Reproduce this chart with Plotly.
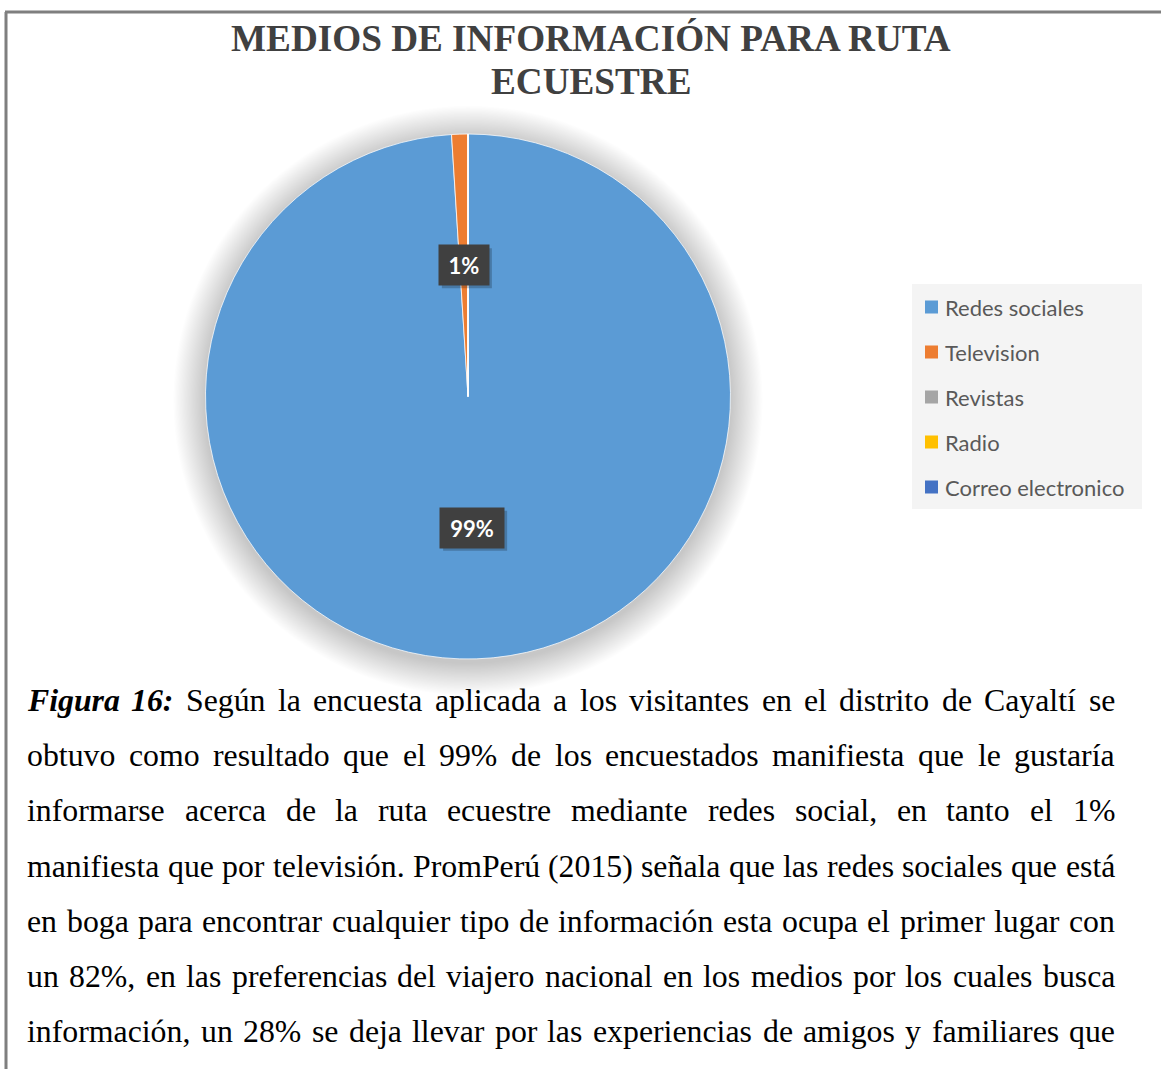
import math
import plotly.graph_objects as go

# ---------------- data ----------------
labels = ["Redes sociales", "Television", "Revistas", "Radio", "Correo electronico"]
values = [99, 1, 0, 0, 0]
colors = ["#5B9BD5", "#ED7D31", "#A5A5A5", "#FFC000", "#4472C4"]

title_lines = ["MEDIOS DE INFORMACIÓN PARA RUTA", "ECUESTRE"]
caption_lead = "Figura 16:"
caption_lines = [
    "Según la encuesta aplicada a los visitantes en el distrito de Cayaltí se",
    "obtuvo como resultado que el 99% de los encuestados manifiesta que le gustaría",
    "informarse acerca de la ruta ecuestre mediante redes social, en tanto el 1%",
    "manifiesta que por televisión. PromPerú (2015) señala que las redes sociales que está",
    "en boga para encontrar cualquier tipo de información esta ocupa el primer lugar con",
    "un 82%, en las preferencias del viajero nacional en los medios por los cuales busca",
    "información, un 28% se deja llevar por las experiencias de amigos y familiares que",
]

# ---------------- layout helpers ----------------
W, H = 1161, 1069


def px(x):
    return x / W


def py(y):
    return 1 - y / H


CX, CY, R = 468, 396.5, 262.5

# Times New Roman (Liberation Serif) advance widths, per 1000 em
TIMES = {' ': 250, '!': 333, '%': 833, '(': 333, ')': 333, ',': 250, '-': 333, '.': 250, ':': 278,
         'A': 722, 'B': 667, 'C': 667, 'D': 722, 'E': 611, 'F': 556, 'G': 722, 'H': 722, 'I': 333,
         'J': 389, 'K': 722, 'L': 611, 'M': 889, 'N': 722, 'O': 722, 'P': 556, 'Q': 722, 'R': 667,
         'S': 556, 'T': 611, 'U': 722, 'V': 722, 'W': 944, 'X': 722, 'Y': 722, 'Z': 611,
         'a': 444, 'b': 500, 'c': 444, 'd': 500, 'e': 444, 'f': 333, 'g': 500, 'h': 500, 'i': 278,
         'j': 278, 'k': 500, 'l': 278, 'm': 778, 'n': 500, 'o': 500, 'p': 500, 'q': 500, 'r': 333,
         's': 389, 't': 278, 'u': 500, 'v': 500, 'w': 722, 'x': 500, 'y': 500, 'z': 444,
         'á': 444, 'é': 444, 'í': 278, 'ó': 500, 'ú': 500, 'ñ': 500}
for d in "0123456789":
    TIMES[d] = 500
TIMES_BI = {'F': 667, 'i': 278, 'g': 500, 'u': 556, 'r': 389, 'a': 500, '1': 500, '6': 500, ':': 333}

CAP_SIZE = 31.8
CAP_LEFT, CAP_RIGHT = 27, 1115
CAP_Y0, CAP_DY = 700.5, 55.2

fig = go.Figure()

fig.add_trace(go.Pie(
    labels=labels,
    values=values,
    marker=dict(colors=colors, line=dict(color="white", width=0.75)),
    sort=False,
    direction="clockwise",
    rotation=0,
    textinfo="none",
    hoverinfo="label+percent",
    showlegend=False,
    domain=dict(x=[px(CX - R), px(CX + R)], y=[py(CY + R), py(CY - R)]),
))

shapes = []
annotations = []

# frame lines (top and left)
shapes.append(dict(type="line", xref="paper", yref="paper", x0=px(5), x1=1, y0=py(12), y1=py(12),
                   line=dict(color="#7f7f7f", width=3)))
shapes.append(dict(type="line", xref="paper", yref="paper", x0=px(6), x1=px(6), y0=py(12), y1=0,
                   line=dict(color="#7f7f7f", width=3)))

# soft shadow under the pie
N_SH = 28
for k in range(N_SH, 0, -1):
    r = R + k * 1.15
    cy = CY + 4
    shapes.append(dict(type="circle", xref="paper", yref="paper", layer="below",
                       x0=px(CX - r), x1=px(CX + r), y0=py(cy + r), y1=py(cy - r),
                       fillcolor="rgba(0,0,0,0.0065)", line=dict(width=0)))

# title
for i, t in enumerate(title_lines):
    annotations.append(dict(xref="paper", yref="paper", x=px(591), y=py(38.5 + 43 * i),
                            xanchor="center", yanchor="middle", showarrow=False,
                            text=f"<b>{t}</b>",
                            font=dict(family="Liberation Serif", size=37.2, color="#404040")))

# data labels at half radius along each slice's mid angle
total = sum(values)
cum = 0
for v in values:
    if v > 0:
        mid = (cum + v / 2) / total * 2 * math.pi
        lx = CX + 0.5 * R * math.sin(mid)
        ly = CY - 0.5 * R * math.cos(mid)
        txt = f"{round(100 * v / total)}%"
        wbox = 12 + 14 * len(txt)
        bw, bh = wbox + 10, 40
        shapes.append(dict(type="rect", xref="paper", yref="paper", layer="above",
                           x0=px(lx - bw / 2 + 3), x1=px(lx + bw / 2 + 3),
                           y0=py(ly + bh / 2 + 3), y1=py(ly - bh / 2 + 3),
                           fillcolor="rgba(0,0,0,0.22)", line=dict(width=0)))
        annotations.append(dict(xref="paper", yref="paper", x=px(lx), y=py(ly),
                                xanchor="center", yanchor="middle", showarrow=False,
                                text=f"<b>{txt}</b>", width=wbox, height=30, borderpad=5,
                                bgcolor="#404040",
                                font=dict(family="Lato", size=22, color="white")))
    cum += v

# legend (manual, to reproduce the item spacing)
shapes.append(dict(type="rect", xref="paper", yref="paper", layer="below",
                   x0=px(912), x1=px(1142), y0=py(509), y1=py(284),
                   fillcolor="#f4f4f4", line=dict(width=0)))
for i, (lab, col) in enumerate(zip(labels, colors)):
    yc = 307 + 45 * i
    shapes.append(dict(type="rect", xref="paper", yref="paper",
                       x0=px(925), x1=px(938), y0=py(yc + 6.5), y1=py(yc - 6.5),
                       fillcolor=col, line=dict(width=0)))
    annotations.append(dict(xref="paper", yref="paper", x=px(945), y=py(yc),
                            xanchor="left", yanchor="middle", showarrow=False,
                            text=lab, borderpad=0, borderwidth=0,
                            font=dict(family="Lato", size=22, color="#595959")))


# caption, justified word by word
def word_width(w, table):
    return sum(table.get(c, 500) for c in w) * CAP_SIZE / 1000


for li, line in enumerate(caption_lines):
    words = []
    if li == 0:
        for w in caption_lead.split(" "):
            words.append((w, TIMES_BI, True))
    for w in line.split(" "):
        words.append((w, TIMES, False))
    widths = [word_width(w, t) for w, t, _ in words]
    gap = (CAP_RIGHT - CAP_LEFT - sum(widths)) / (len(words) - 1)
    x = CAP_LEFT
    yc = CAP_Y0 + CAP_DY * li
    for (w, t, bi), wd in zip(words, widths):
        txt = f"<b><i>{w}</i></b>" if bi else w
        annotations.append(dict(xref="paper", yref="paper", x=px(x), y=py(yc),
                                xanchor="left", yanchor="middle", showarrow=False,
                                text=txt, borderpad=0, borderwidth=0,
                                font=dict(family="Liberation Serif", size=CAP_SIZE, color="black")))
        x += wd + gap

fig.update_layout(
    width=W, height=H,
    margin=dict(l=0, r=0, t=0, b=0),
    paper_bgcolor="white",
    plot_bgcolor="white",
    shapes=shapes,
    annotations=annotations,
    showlegend=False,
)

fig.write_html("out.html", config={"displayModeBar": False},
               post_script="document.body.style.margin='0';")
